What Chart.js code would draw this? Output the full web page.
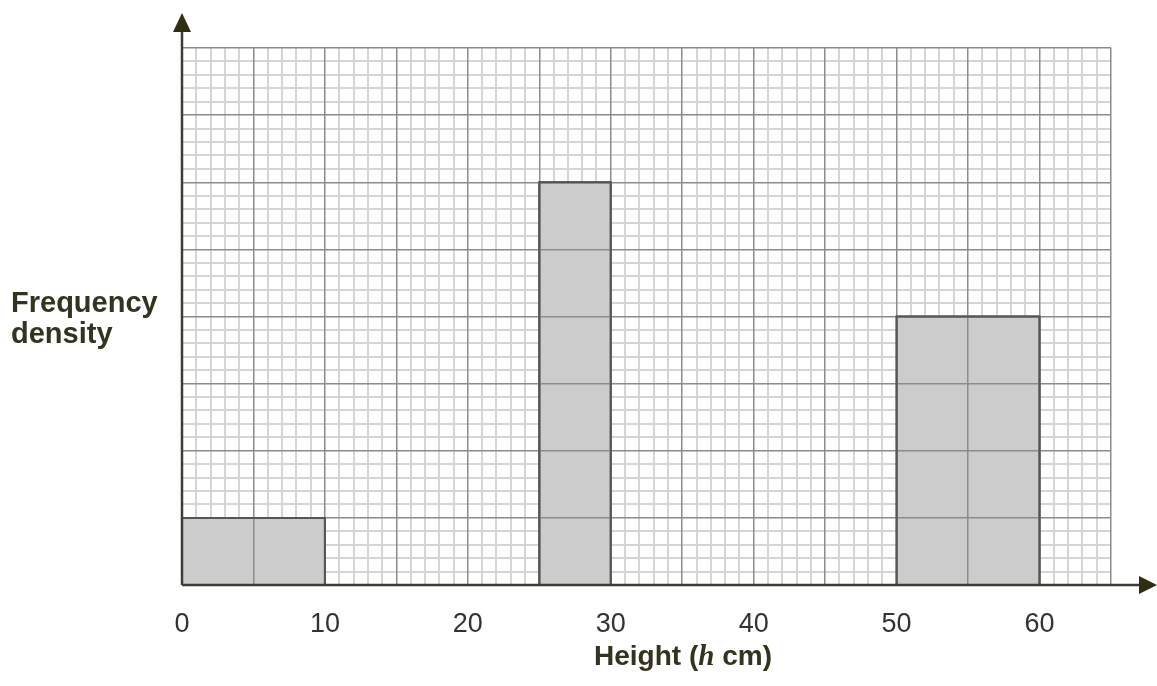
<!DOCTYPE html>
<html lang="en">
<head>
<meta charset="UTF-8">
<title>Histogram</title>
<script src="https://cdn.jsdelivr.net/npm/chart.js"></script>
<style>
  html, body { margin: 0; padding: 0; background: #fff; }
  #wrap { width: 1157px; height: 686px; }
</style>
</head>
<body>
<div id="wrap"><canvas id="histo"></canvas></div>
<script>
// class intervals and frequency densities
const binStarts = [0, 25, 50];
const binEnds = [10, 30, 60];
const densities = [1, 6, 4];
const xTickLabels = [0, 10, 20, 30, 40, 50, 60];
const xMax = 65;
const yMax = 8;

const isMult = (v, m) => Math.abs(v / m - Math.round(v / m)) < 1e-6;

// each bar is a closed outline filled down to zero
const datasets = binStarts.map((start, i) => ({
    data: [
        {x: start, y: 0},
        {x: start, y: densities[i]},
        {x: binEnds[i], y: densities[i]},
        {x: binEnds[i], y: 0}
    ],
    borderColor: '#555555',
    borderWidth: 2,
    backgroundColor: '#cccccc',
    fill: 'origin',
    pointRadius: 0,
    tension: 0
}));

const extras = {
    id: 'extras',
    afterDraw(chart) {
        const ctx = chart.ctx;
        const a = chart.chartArea;

        // bar edges on top of the major grid
        chart.data.datasets.forEach((d, i) => {
            chart.getDatasetMeta(i).dataset.draw(ctx, a);
        });

        ctx.save();
        ctx.strokeStyle = '#3d3d33';
        ctx.fillStyle = '#2e2e10';
        ctx.lineWidth = 2.5;
        // y axis + arrow
        ctx.beginPath();
        ctx.moveTo(a.left, a.bottom);
        ctx.lineTo(a.left, 28);
        ctx.stroke();
        ctx.beginPath();
        ctx.moveTo(a.left, 13);
        ctx.lineTo(a.left - 9, 32);
        ctx.lineTo(a.left + 9, 32);
        ctx.closePath();
        ctx.fill();
        // x axis + arrow
        ctx.beginPath();
        ctx.moveTo(a.left, a.bottom);
        ctx.lineTo(1142, a.bottom);
        ctx.stroke();
        ctx.beginPath();
        ctx.moveTo(1157, a.bottom);
        ctx.lineTo(1139, a.bottom - 9);
        ctx.lineTo(1139, a.bottom + 9);
        ctx.closePath();
        ctx.fill();

        // axis titles
        ctx.fillStyle = '#33331f';
        ctx.textBaseline = 'alphabetic';
        ctx.textAlign = 'left';
        ctx.font = "bold 29px 'Liberation Sans', Arial, sans-serif";
        ctx.fillText('Frequency', 11, 312);
        ctx.fillText('density', 11, 343);

        const parts = [
            ['Height (', "bold 28px 'Liberation Sans', Arial, sans-serif"],
            ['h', "bold italic 29px 'Liberation Serif', serif"],
            [' cm)', "bold 28px 'Liberation Sans', Arial, sans-serif"]
        ];
        let total = 0;
        parts.forEach(p => { ctx.font = p[1]; total += ctx.measureText(p[0]).width; });
        let x = 683 - total / 2;
        parts.forEach(p => {
            ctx.font = p[1];
            ctx.fillText(p[0], x, 665);
            x += ctx.measureText(p[0]).width;
        });
        ctx.restore();
    }
};

new Chart(document.getElementById('histo'), {
    type: 'line',
    data: {datasets: datasets},
    plugins: [extras],
    options: {
        responsive: true,
        maintainAspectRatio: false,
        animation: false,
        events: [],
        layout: {padding: {left: 182, right: 46, top: 48, bottom: 0}},
        plugins: {legend: {display: false}, tooltip: {enabled: false}},
        scales: {
            x: {
                type: 'linear',
                min: 0,
                max: xMax,
                border: {display: false},
                grid: {
                    drawTicks: false,
                    lineWidth: 2,
                    color: c => isMult(c.tick.value, 5) ? 'rgba(0,0,0,0)' : '#d5d5d5'
                },
                ticks: {
                    stepSize: 1,
                    maxTicksLimit: 1000,
                    autoSkip: false,
                    maxRotation: 0,
                    padding: 23,
                    color: '#333333',
                    font: {size: 27, family: "'Liberation Sans', Arial, sans-serif"},
                    callback: v => xTickLabels.includes(v) ? String(v) : ''
                },
                afterFit: s => { s.height = 101; }
            },
            xMajor: {
                type: 'linear',
                position: 'top',
                min: 0,
                max: xMax,
                z: 1,
                border: {display: false},
                grid: {z: 1, drawTicks: false, lineWidth: 1.5, color: '#8c8c8c'},
                ticks: {display: false, stepSize: 5},
                afterFit: s => { s.height = 0; }
            },
            y: {
                type: 'linear',
                min: 0,
                max: yMax,
                border: {display: false},
                grid: {
                    drawTicks: false,
                    lineWidth: 2,
                    color: c => isMult(c.tick.value, 1) ? 'rgba(0,0,0,0)' : '#d5d5d5'
                },
                ticks: {display: false, stepSize: 0.2, maxTicksLimit: 1000},
                afterFit: s => { s.width = 0; }
            },
            yMajor: {
                type: 'linear',
                position: 'right',
                min: 0,
                max: yMax,
                z: 1,
                border: {display: false},
                grid: {z: 1, drawTicks: false, lineWidth: 1.5, color: '#8c8c8c'},
                ticks: {display: false, stepSize: 1},
                afterFit: s => { s.width = 0; }
            }
        }
    }
});
</script>
</body>
</html>
